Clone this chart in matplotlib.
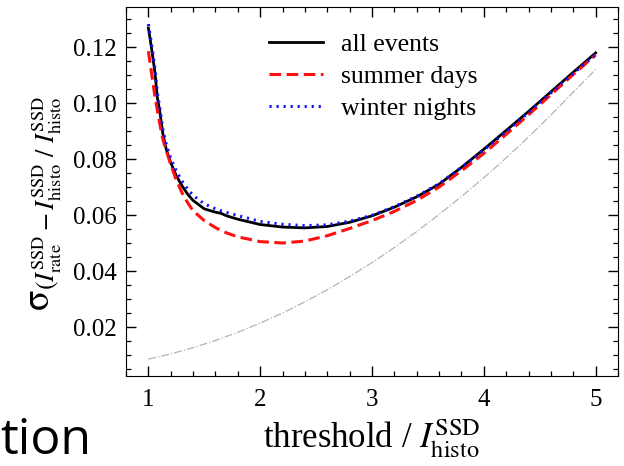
import matplotlib
matplotlib.use('Agg')
import matplotlib.pyplot as plt
from matplotlib.ticker import MultipleLocator

# threshold values (in units of I_histo^SSD)
x = [1.0, 1.02, 1.04, 1.06, 1.08, 1.1, 1.13, 1.16, 1.2, 1.25, 1.3, 1.35, 1.4,
     1.5, 1.6, 1.65, 1.7, 1.8, 2.0, 2.2, 2.4, 2.6, 2.8, 3.0, 3.2, 3.4,
     3.6, 3.8, 4.0, 4.2, 4.4, 4.6, 4.8, 5.0]

all_events = [0.1268, 0.1218, 0.1163, 0.1105, 0.1020, 0.0975, 0.0890, 0.0835,
              0.0787, 0.0740, 0.0705, 0.0675, 0.0652, 0.0622, 0.0610, 0.0606,
              0.0597, 0.0585, 0.0566, 0.0557, 0.0554, 0.0559, 0.0574, 0.0597,
              0.0628, 0.0665, 0.0710, 0.0770, 0.0835, 0.0902, 0.0970, 0.1040,
              0.1110, 0.1179]

summer_days = [0.1185, 0.1130, 0.1075, 0.1020, 0.0975, 0.0930, 0.0870, 0.0830,
               0.0780, 0.0725, 0.0680, 0.0645, 0.0615, 0.0580, 0.0555, 0.0545,
               0.0536, 0.0522, 0.0505, 0.0500, 0.0507, 0.0526, 0.0552, 0.0580,
               0.0613, 0.0652, 0.0700, 0.0758, 0.0820, 0.0888, 0.0958, 0.1030,
               0.1102, 0.1172]

winter_nights = [0.1282, 0.1232, 0.1178, 0.1120, 0.1038, 0.0990, 0.0905, 0.0852,
                 0.0803, 0.0757, 0.0722, 0.0693, 0.0670, 0.0640, 0.0622, 0.0615,
                 0.0609, 0.0598, 0.0577, 0.0567, 0.0562, 0.0565, 0.0578, 0.0599,
                 0.0630, 0.0667, 0.0712, 0.0770, 0.0832, 0.0898, 0.0966, 0.1036,
                 0.1106, 0.1173]

x_ref = [1.0, 1.2, 1.4, 1.6, 1.8, 2.0, 2.2, 2.4, 2.6, 2.8, 3.0, 3.2, 3.4, 3.6,
         3.8, 4.0, 4.2, 4.4, 4.6, 4.8, 5.0]
reference = [0.0085, 0.0104, 0.0126, 0.0152, 0.0181, 0.0214, 0.0250, 0.0290,
             0.0333, 0.0380, 0.0430, 0.0484, 0.0541, 0.0602, 0.0666, 0.0733,
             0.0804, 0.0879, 0.0957, 0.1039, 0.1120]

y_ticks = [0.02, 0.04, 0.06, 0.08, 0.10, 0.12]
y_ticklabels = ['0.02', '0.04', '0.06', '0.08', '0.10', '0.12']

plt.rcParams['font.family'] = 'Liberation Serif'
plt.rcParams['mathtext.fontset'] = 'stix'

fig = plt.figure(figsize=(6.24, 4.66), dpi=100)
ax = fig.add_axes([126 / 624, 90 / 466, 492 / 624, 369 / 466])

ax.plot(x_ref, reference, color='#b4b4b4', lw=0.9, ls='-.')
ax.plot(x, all_events, color='black', lw=2.0, label='all events')
ax.plot(x, summer_days, color='#ff1010', lw=2.2, ls=(0, (3.8, 1.8)), label='summer days')
ax.plot(x, winter_nights, color='#1010ff', lw=2.2, ls=(0, (0.7, 1.6)), label='winter nights')

ax.set_xlim(0.8, 5.2)
ax.set_ylim(0.0025, 0.1343)
ax.xaxis.set_major_locator(MultipleLocator(1))
ax.xaxis.set_minor_locator(MultipleLocator(0.2))
ax.yaxis.set_minor_locator(MultipleLocator(0.005))
ax.set_yticks(y_ticks)
ax.set_yticklabels(y_ticklabels)
ax.tick_params(which='both', direction='in', top=True, right=True, labelsize=18)
ax.tick_params(which='major', length=7, width=1.0)
ax.tick_params(which='minor', length=3.5, width=0.9)
ax.tick_params(axis='x', pad=9)
ax.tick_params(axis='y', pad=7)

ax.set_xlabel(r'threshold / $I^{\rm SSD}_{\rm histo}$', fontsize=25, labelpad=5)
ax.set_ylabel(r'$\mathrm{σ}_{(I^{\rm SSD}_{\rm rate} - I^{\rm SSD}_{\rm histo}\ /\ I^{\rm SSD}_{\rm histo}}$',
              fontsize=27)
ax.yaxis.set_label_coords(-0.126, 0.466)

ax.legend(loc='upper left', bbox_to_anchor=(0.291, 0.929), frameon=False, fontsize=18.5,
          handlelength=2.1, labelspacing=0.35, handletextpad=0.7,
          borderpad=0, borderaxespad=0)

fig.text(0.0, 0.026, 'tion', fontsize=36, family='Open Sans', ha='left', va='baseline')

fig.savefig('out.png', dpi=100)
